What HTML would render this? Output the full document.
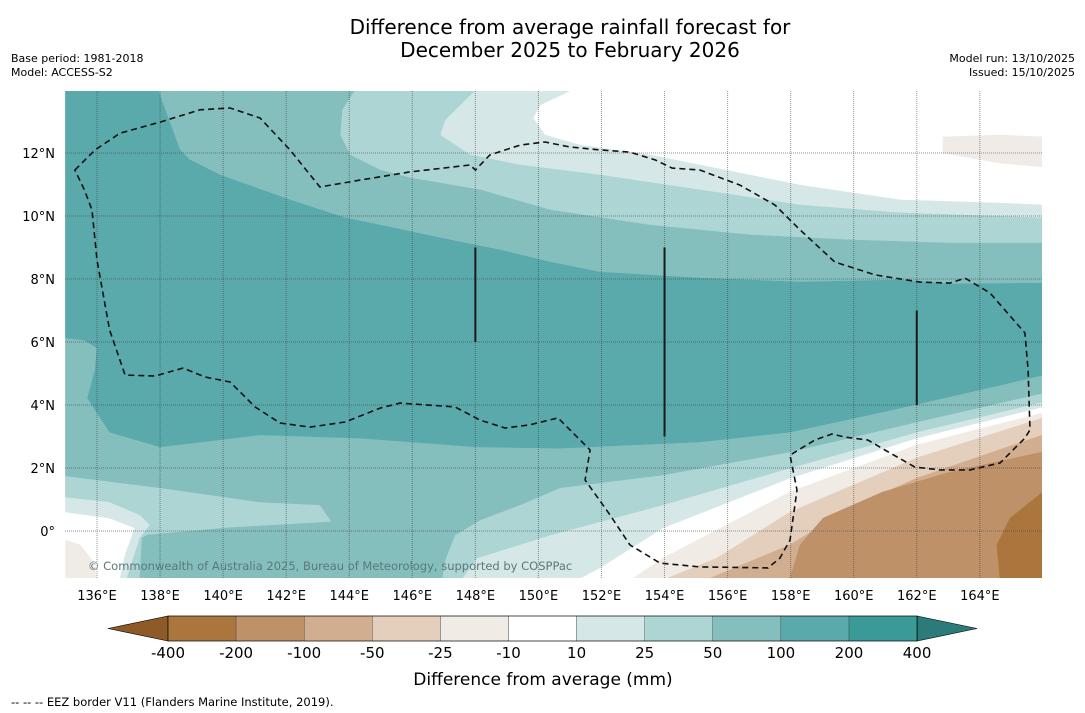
<!DOCTYPE html>
<html><head><meta charset="utf-8"><style>
body{margin:0;background:#fff;width:1085px;height:713px;overflow:hidden;font-family:"DejaVu Sans","Liberation Sans",sans-serif}
svg{position:absolute;left:0;top:0;font-family:"DejaVu Sans","Liberation Sans",sans-serif}
</style></head><body>
<svg id="chart" width="1085" height="713" xmlns="http://www.w3.org/2000/svg"></svg>
<script>
// ---- data ----
const lonTicks=[136,138,140,142,144,146,148,150,152,154,156,158,160,162,164];
const latTicks=[0,2,4,6,8,10,12];
const latLabels=["0°","2°N","4°N","6°N","8°N","10°N","12°N"];
const cbLevels=["-400","-200","-100","-50","-25","-10","10","25","50","100","200","400"];
const cbColors=["#ab763e","#be9168","#d1ae8f","#e4cfbc","#f1ebe6","#ffffff","#d5e8e7","#acd5d4","#84bfbe","#5aaaab","#3a9a98"];
const band10=[135,14,151.06,14,150.05,13.52,149.83,13.11,150.21,12.57,151.32,12.25,153.54,11.94,155.12,11.62,158.3,10.98,161.47,10.51,164.64,10.41,166,10.35,166,3.94,162,2.95,157.98,1.68,153.95,0.1,151.95,-1.17,151.32,-1.5,136.73,-1.5,136.89,-0.76,137.2,0.1,136.4,0.41,135,0.6];
const band25=[135,14,148,14,147.04,13.05,146.88,12.57,147.83,11.94,149.42,11.62,151.95,11.3,155.12,10.83,158.3,10.35,161.47,10.1,166,9.94,166,4.1,162,3.14,157.98,2.0,153.95,0.83,150.37,-0.13,148.05,-0.86,147.58,-1.5,136.95,-1.5,137.36,-0.22,137.68,0.19,137.36,0.51,136.4,0.92,135,1.08];
const band50=[135,14,144.18,14,143.77,13.37,143.71,12.57,144.02,11.94,144.98,11.46,145.93,11.21,148.15,10.83,150.37,10.19,153.54,9.71,156.71,9.4,159.88,9.24,163.05,9.14,166,9.14,166,4.38,162,3.46,157.98,2.51,153.95,1.78,150.68,1.37,149.42,0.83,148.15,0.35,147.35,-0.13,147.04,-0.92,146.94,-1.5,137.36,-1.5,137.43,-0.22,137.59,-0.13,140.12,0.1,143.45,0.29,143.07,0.83,141.17,0.92,138,1.37,135,1.75];
const band100=[135,14,137.93,14,138.16,13.37,138.63,12.1,138.95,11.78,139.9,11.3,142.12,10.51,143.87,9.94,144.98,9.71,147.2,9.24,148.78,8.92,150.37,8.54,151.95,8.22,155.12,8.03,158.3,7.9,161.47,7.97,163.05,7.84,166,7.87,166,4.95,164.64,4.63,160.93,3.78,157.98,3.14,155.12,2.83,150.68,2.63,148.05,2.67,144.34,2.95,141.17,3.05,138,2.67,136.4,3.14,135.7,4.22,135.94,5.11,136,5.81,135.6,6.06,135,6.13];
const bandM10=[166,3.75,162,2.73,157.98,1.24,153.95,-0.86,153,-1.5,166,-1.5];
const bandM10b=[162.83,12.51,164.64,12.57,166,12.51,166,11.56,164.64,11.68,162.83,12.0];
const bandM10c=[135,-0.29,135.46,-0.44,135.84,-0.92,136,-1.5,135,-1.5];
const bandM25=[166,3.59,162,2.32,157.98,0.6,155.66,-0.86,154.08,-1.5,166,-1.5];
const bandM50=[166,3.05,162,1.68,159.88,0.73,157.98,-0.44,155.44,-1.5,166,-1.5];
const bandM100=[166,2.51,163.05,1.87,160.93,1.24,159.03,0.41,158.3,-0.44,157.98,-1.5,166,-1.5];
const bandM200=[166,1.24,164.96,0.41,164.54,-0.44,164.64,-1.5,166,-1.5];
const eez=[135.3,11.46,135.94,12.1,136.73,12.63,138,12.98,139.27,13.37,140.22,13.43,141.17,13.11,142.12,12.1,143.07,10.92,144.34,11.14,145.93,11.4,147.83,11.62,148,11.46,148.46,11.94,149.42,12.25,150.21,12.35,151,12.19,151.95,12.1,152.9,12.03,153.7,11.78,154.24,11.52,155.12,11.46,156.39,10.98,157.5,10.35,158.3,9.56,159.4,8.54,160.68,8.13,162.1,7.9,163.05,7.87,163.53,8.03,164.32,7.56,165.43,6.29,165.53,5.11,165.59,3.21,165.43,2.95,164.64,2.16,163.69,1.94,162.74,1.94,161.94,2.03,160.99,2.57,160.45,2.89,159.72,2.98,159.31,3.08,158.77,2.89,157.98,2.41,158.2,1.3,157.98,-0.29,157.66,-0.86,157.28,-1.17,155.12,-1.14,153.86,-1.02,152.9,-0.44,152.27,0.51,151.48,1.62,151.64,2.57,151,3.21,150.62,3.59,149.73,3.37,148.94,3.27,148.15,3.52,147.35,3.94,145.61,4.06,144.98,3.9,143.87,3.46,142.76,3.3,141.8,3.43,141.01,3.94,140.22,4.73,139.43,4.89,138.73,5.17,137.84,4.92,136.89,4.95,136.4,6.38,136,8.6,135.84,10.19,135.6,10.83];
const segLines=[[148,9.0,6.0],[154,9.0,3.0],[162,7.0,4.0]];
// ---- projection ----
const X=lon=>97+(lon-136)*31.53;
const Y=lat=>531-lat*31.5;
const svg=document.getElementById('chart');
const NS='http://www.w3.org/2000/svg';
function mk(tag,attrs,parent){const e=document.createElementNS(NS,tag);for(const k in attrs)e.setAttribute(k,attrs[k]);(parent||svg).appendChild(e);return e;}
function pts(a){let s=[];for(let i=0;i<a.length;i+=2)s.push(X(a[i]).toFixed(1)+','+Y(a[i+1]).toFixed(1));return s.join(' ');}
mk('defs',{}).innerHTML='<clipPath id="mapclip"><rect x="65" y="91" width="977" height="487"/></clipPath>';
const g=mk('g',{'clip-path':'url(#mapclip)'});


mk('rect',{x:65,y:91,width:977,height:487,fill:'#fff'},g);
const fills=[[band10,'#d5e8e7','band-10-25'],[band25,'#acd5d4','band-25-50'],[band50,'#84bfbe','band-50-100'],[band100,'#5aaaab','band-100-200'],[bandM10,'#f1ebe6','band-minus10'],[bandM10b,'#f0ebe7','band-minus10-north'],[bandM10c,'#f1ebe6','band-minus10-west'],[bandM25,'#e4cfbc','band-minus25'],[bandM50,'#d1ae8f','band-minus50'],[bandM100,'#be9168','band-minus100'],[bandM200,'#ab763e','band-minus200']];
fills.forEach(f=>{const p=mk('polygon',{points:pts(f[0]),fill:f[1],stroke:f[1],'stroke-width':0.5},g);

});
lonTicks.forEach(l=>{const ln=mk('line',{x1:X(l),x2:X(l),y1:91,y2:578,stroke:'rgba(60,60,60,0.55)','stroke-width':1,'stroke-dasharray':'1,1'},g);

});
latTicks.forEach(l=>{const ln=mk('line',{x1:65,x2:1042,y1:Y(l),y2:Y(l),stroke:'rgba(60,60,60,0.55)','stroke-width':1,'stroke-dasharray':'1,1'},g);

});
const ez=mk('polygon',{points:pts(eez),fill:'none',stroke:'#111','stroke-width':1.6,'stroke-dasharray':'6,4'},g);


segLines.forEach(s=>{const ln=mk('line',{x1:X(s[0]),x2:X(s[0]),y1:Y(s[1]),y2:Y(s[2]),stroke:'#1a1a1a','stroke-width':2},g);

});
const cp=mk('text',{x:88,y:570,'font-size':11.5,fill:'#5b7878'},g);
cp.textContent='© Commonwealth of Australia 2025, Bureau of Meteorology, supported by COSPPac';


lonTicks.forEach(l=>{const t=mk('text',{x:X(l),y:600,'font-size':13,'text-anchor':'middle',fill:'#000'});t.textContent=l+'°E';

});
latTicks.forEach((l,i)=>{const t=mk('text',{x:55,y:Y(l)+5,'font-size':13,'text-anchor':'end',fill:'#000'});t.textContent=latLabels[i];

});
// colorbar
const cbx0=168,cbw=68.1,cby=616,cbh=25;
const lt=mk('polygon',{points:`108,${cby+cbh/2} ${cbx0},${cby} ${cbx0},${cby+cbh}`,fill:'#8e5a28',stroke:'#000','stroke-width':0.6});


cbColors.forEach((c,i)=>{const r=mk('rect',{x:cbx0+i*cbw,y:cby,width:cbw,height:cbh,fill:c,stroke:'#444','stroke-width':0.4});

});
const xe=cbx0+cbColors.length*cbw;
const rt=mk('polygon',{points:`${xe},${cby} ${xe+60},${cby+cbh/2} ${xe},${cby+cbh}`,fill:'#2a7b7a',stroke:'#000','stroke-width':0.6});


mk('rect',{x:cbx0,y:cby,width:xe-cbx0,height:cbh,fill:'none',stroke:'#000','stroke-width':0.6});
cbLevels.forEach((v,i)=>{const t=mk('text',{x:cbx0+i*cbw,y:658,'font-size':15,'text-anchor':'middle',fill:'#000'});t.textContent=v;

});
function txt(x,y,s,size,anchor,name){const t=mk('text',{x:x,y:y,'font-size':size,'text-anchor':anchor,fill:'#000'});t.textContent=s;

}
txt(543,685,'Difference from average (mm)',17,'middle','colorbar-title');
txt(570,34,'Difference from average rainfall forecast for',20,'middle','chart-title-line1');
txt(570,57,'December 2025 to February 2026',20,'middle','chart-title-line2');
txt(11,62,'Base period: 1981-2018',11,'start','base-period');
txt(11,76,'Model: ACCESS-S2',11,'start','model-name');
txt(1075,62,'Model run: 13/10/2025',11,'end','model-run');
txt(1075,76,'Issued: 15/10/2025',11,'end','issued-date');
txt(11,706,'--  --  -- EEZ border V11 (Flanders Marine Institute, 2019).',11.5,'start','eez-legend');
</script>
</body></html>
